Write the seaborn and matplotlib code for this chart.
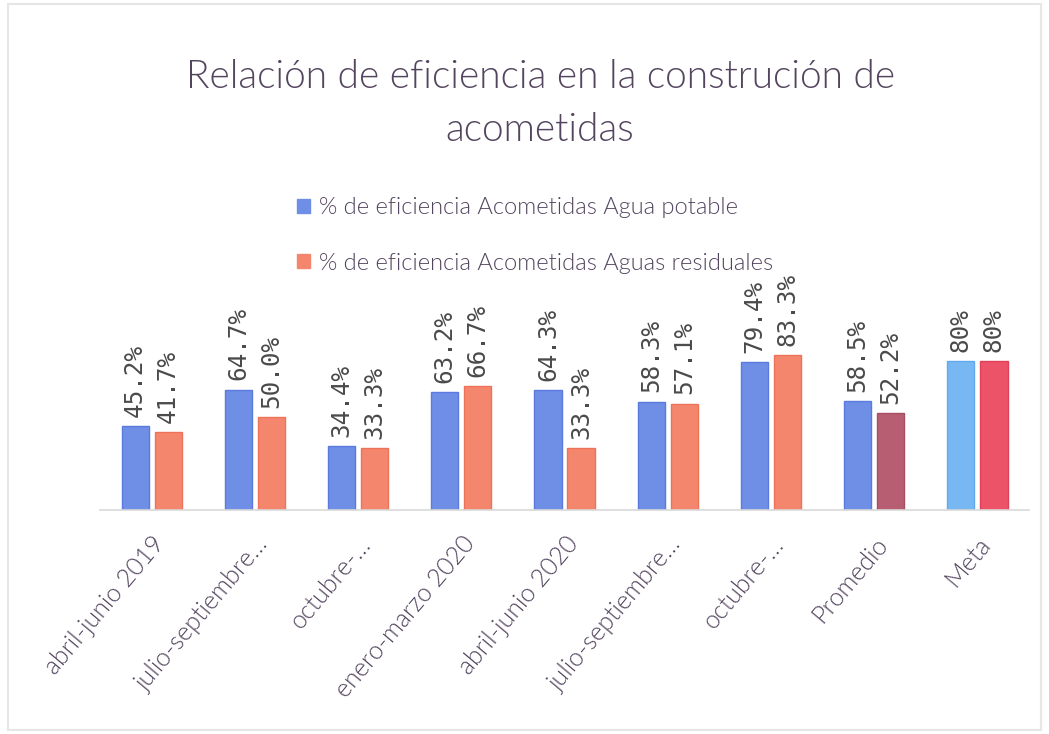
import matplotlib
matplotlib.use("Agg")
import matplotlib.pyplot as plt
from matplotlib.patches import Patch, Rectangle
import seaborn as sns
import pandas as pd

categories = ["abril-junio 2019", "julio-septiembre 2019", "octubre-diciembre 2019",
              "enero-marzo 2020", "abril-junio 2020", "julio-septiembre 2020",
              "octubre-diciembre 2020", "Promedio", "Meta"]
tick_labels = ["abril-junio 2019", "julio-septiembre…", "octubre-…", "enero-marzo 2020",
               "abril-junio 2020", "julio-septiembre…", "octubre-…", "Promedio", "Meta"]
series_names = ["% de eficiencia Acometidas Agua potable",
                "% de eficiencia Acometidas Aguas residuales"]
agua_potable = [45.2, 64.7, 34.4, 63.2, 64.3, 58.3, 79.4, 58.5, 80]
aguas_residuales = [41.7, 50.0, 33.3, 66.7, 33.3, 57.1, 83.3, 52.2, 80]
labels_potable = ["45.2%", "64.7%", "34.4%", "63.2%", "64.3%", "58.3%", "79.4%", "58.5%", "80%"]
labels_residuales = ["41.7%", "50.0%", "33.3%", "66.7%", "33.3%", "57.1%", "83.3%", "52.2%", "80%"]

blue = "#6f8fe6"
orange = "#f4866e"
prom_res = "#b85e72"
meta_blue = "#78b8f2"
meta_red = "#ec5268"
text_col = "#54455f"

df = pd.DataFrame({
    "cat": categories * 2,
    "val": agua_potable + aguas_residuales,
    "serie": [series_names[0]] * len(categories) + [series_names[1]] * len(categories),
})

sns.set_style("white")
plt.rcParams["font.family"] = ["Lato", "DejaVu Sans"]

fig = plt.figure(figsize=(10.49, 7.34), dpi=100)
ax = fig.add_axes([0.0953, 0.3052, 0.8857, 0.2534])

sns.barplot(data=df, x="cat", y="val", hue="serie", order=categories,
            hue_order=series_names, palette=[blue, orange], width=0.64, gap=0.18,
            ax=ax, legend=False, saturation=1)

ax.set_ylim(0, 100)
ax.set_xlim(-0.5, len(categories) - 0.5)

cont0, cont1 = ax.containers[0], ax.containers[1]
for i, p in enumerate(cont0):
    c = meta_blue if categories[i] == "Meta" else blue
    p.set_facecolor(c)
    p.set_edgecolor("#5a7ae0" if categories[i] != "Meta" else "#62a8ee")
    p.set_linewidth(1)
for i, p in enumerate(cont1):
    if categories[i] == "Meta":
        c, e = meta_red, "#e04058"
    elif categories[i] == "Promedio":
        c, e = prom_res, "#a84e62"
    else:
        c, e = orange, "#ee7258"
    p.set_facecolor(c)
    p.set_edgecolor(e)
    p.set_linewidth(1)

for cont, labs in ((cont0, labels_potable), (cont1, labels_residuales)):
    for p, lab in zip(cont, labs):
        ax.text(p.get_x() + p.get_width() / 2, p.get_height() + 5, lab,
                rotation=90, ha="center", va="bottom", fontsize=17.5,
                family="DejaVu Sans Mono", color="#4a4a4a")

for s in ["left", "right", "top"]:
    ax.spines[s].set_visible(False)
ax.spines["bottom"].set_color("#d9d9d9")
ax.spines["bottom"].set_linewidth(1.2)
ax.set_yticks([])
ax.set_xlabel("")
ax.set_ylabel("")
ax.set_xticks(range(len(categories)))
ax.set_xticklabels(tick_labels, rotation=50, ha="right", rotation_mode="anchor",
                   fontsize=18, color=text_col, fontweight=300)
ax.tick_params(axis="x", length=0, pad=16)

fig.text(0.515, 0.92, "Relación de eficiencia en la construción de\nacometidas",
         ha="center", va="top", fontsize=28, color=text_col, linespacing=1.6,
         fontweight=300)

handles = [Patch(facecolor=blue, edgecolor=blue), Patch(facecolor=orange, edgecolor=orange)]
fig.legend(handles, series_names, loc="upper center", bbox_to_anchor=(0.51, 0.76),
           frameon=False, labelcolor=text_col, handlelength=0.55,
           handleheight=0.55, handletextpad=0.4, labelspacing=1.45,
           prop={"size": 17, "weight": 300})

fig.patches.append(Rectangle((0.008, 0.005), 0.984, 0.99, transform=fig.transFigure,
                             fill=False, edgecolor="#e6e6e6", linewidth=1.5))

fig.savefig("out.png", dpi=100)
